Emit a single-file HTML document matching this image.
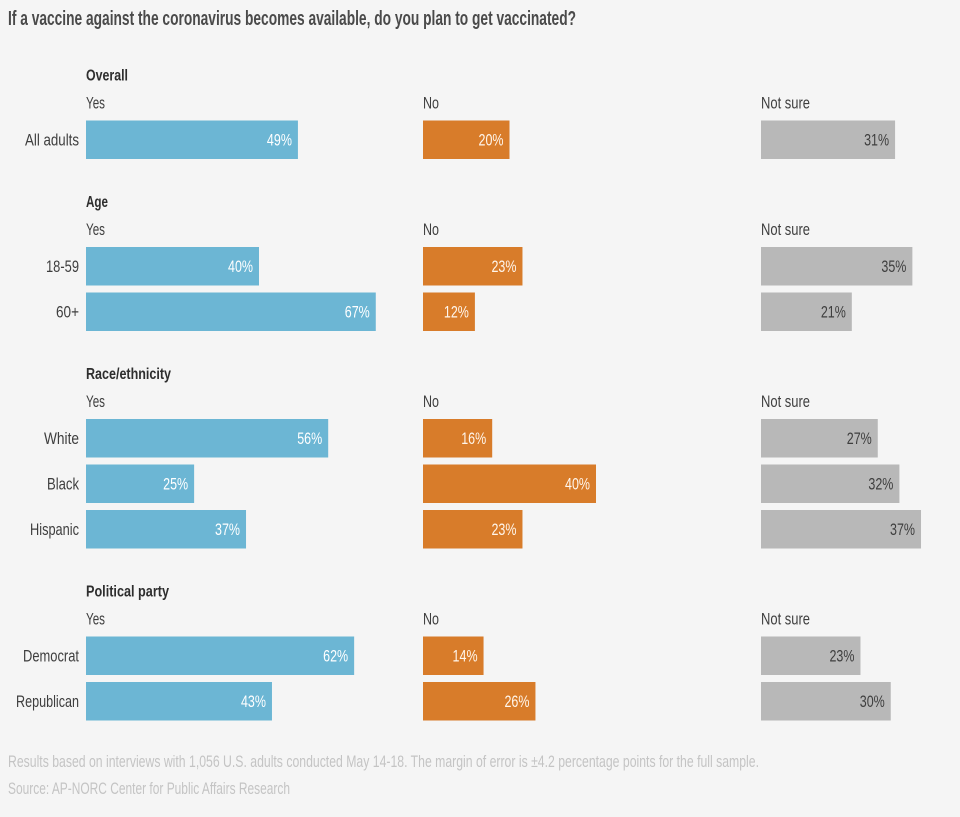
<!DOCTYPE html>
<html lang="en">
<head>
<meta charset="utf-8">
<title>Vaccine intent chart</title>
<style>
  html, body { margin: 0; padding: 0; background: #f5f5f5; }
  svg { display: block; font-family: "Liberation Sans", Arial, sans-serif; }
</style>
</head>
<body>
<svg id="chart" width="960" height="817" viewBox="0 0 960 817" xmlns="http://www.w3.org/2000/svg">
  <rect x="0" y="0" width="960" height="817" fill="#f5f5f5"/>
  <text x="8" y="25" font-size="20" font-weight="700" fill="#4a4a4a" textLength="568" lengthAdjust="spacingAndGlyphs">If a vaccine against the coronavirus becomes available, do you plan to get vaccinated?</text>
  <g id="plot"></g>
  <text x="8" y="767" font-size="16.5" fill="#c4c4c4" textLength="751" lengthAdjust="spacingAndGlyphs">Results based on interviews with 1,056 U.S. adults conducted May 14-18. The margin of error is ±4.2 percentage points for the full sample.</text>
  <text x="8" y="794" font-size="16.5" fill="#c4c4c4" textLength="282" lengthAdjust="spacingAndGlyphs">Source: AP-NORC Center for Public Affairs Research</text>
</svg>
<script>
// ---- data ----
const groupTitles = ["Overall", "Age", "Race/ethnicity", "Political party"];
const groupCategories = [
  ["All adults"],
  ["18-59", "60+"],
  ["White", "Black", "Hispanic"],
  ["Democrat", "Republican"]
];
const seriesNames = ["Yes", "No", "Not sure"];
const yesValues = [[49], [40, 67], [56, 25, 37], [62, 43]];
const noValues = [[20], [23, 12], [16, 40, 23], [14, 26]];
const notSureValues = [[31], [35, 21], [27, 32, 37], [23, 30]];

// ---- style / layout ----
const seriesValues = [yesValues, noValues, notSureValues];
const columnStart = [86, 423, 761];
const barColors = ["#6cb6d4", "#d87c2a", "#b8b8b8"];
const valueColors = ["#ffffff", "#fff6ec", "#3e3e3e"];
const fontPx = 16.5;
const pxPerPercent = 4.325;
const barHeight = 38.5;
const rowStep = 45.5;
const groupGap = 88;
const firstBarTop = 120.5;
const labelRight = 79;
const valuePad = 6;
const nameFit = { "Yes": 19, "No": 16, "Not sure": 49 };
const titleFit = { "Overall": 42, "Age": 22, "Race/ethnicity": 85, "Political party": 83 };
const categoryFit = { "All adults": 54, "18-59": 33, "60+": 23, "White": 35, "Black": 32, "Hispanic": 49, "Democrat": 56, "Republican": 63 };

const NS = "http://www.w3.org/2000/svg";
const plot = document.getElementById("plot");

function xWidth(value) {
  return value * pxPerPercent;
}

function addText(parent, str, x, y, width, opts) {
  const t = document.createElementNS(NS, "text");
  t.textContent = str;
  t.setAttribute("x", x);
  t.setAttribute("y", y);
  t.setAttribute("font-size", opts.size);
  t.setAttribute("fill", opts.fill);
  if (opts.bold) t.setAttribute("font-weight", "700");
  t.setAttribute("textLength", width);
  t.setAttribute("lengthAdjust", "spacingAndGlyphs");
  parent.appendChild(t);
  return t;
}

let groupTop = firstBarTop;
groupTitles.forEach(function (title, g) {
  const group = document.createElementNS(NS, "g");
  
  
  plot.appendChild(group);

  const heading = addText(group, title, 86, groupTop - 40, titleFit[title], { size: 16, fill: "#2e2e2e", bold: true });
  
  

  seriesNames.forEach(function (name, s) {
    const head = addText(group, name, columnStart[s], groupTop - 12, nameFit[name], { size: fontPx, fill: "#3e3e3e" });
    
    
  });

  groupCategories[g].forEach(function (cat, r) {
    const y = groupTop + r * rowStep;
    const w = categoryFit[cat];
    const label = addText(group, cat, labelRight - w, y + 25, w, { size: fontPx, fill: "#3e3e3e" });
    
    

    seriesNames.forEach(function (name, s) {
      const value = seriesValues[s][g][r];
      const bw = xWidth(value);
      const bar = document.createElementNS(NS, "rect");
      bar.setAttribute("x", columnStart[s]);
      bar.setAttribute("y", y);
      bar.setAttribute("width", bw);
      bar.setAttribute("height", barHeight);
      bar.setAttribute("fill", barColors[s]);
      
      
      group.appendChild(bar);

      const valueWidth = 25;
      const vt = addText(group, value + "%", columnStart[s] + bw - valuePad - valueWidth, y + 25, valueWidth, { size: fontPx, fill: valueColors[s] });
      
      
    });
  });

  groupTop += groupCategories[g].length * rowStep - (rowStep - barHeight) + groupGap;
});
</script>
</body>
</html>
